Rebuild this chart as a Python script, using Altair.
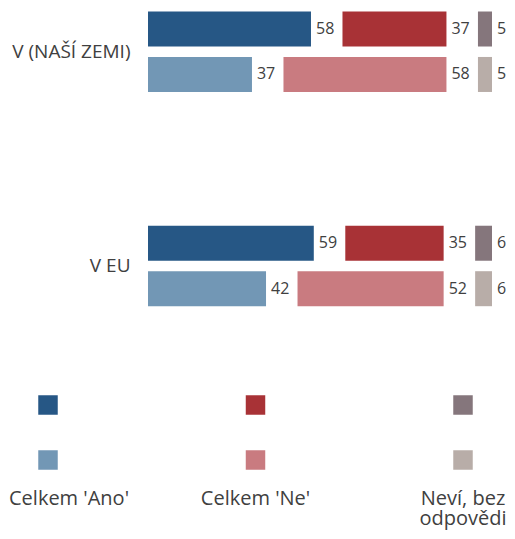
import altair as alt
import pandas as pd

# ---- data ----
groups = ["V (NAŠÍ ZEMI)", "V EU"]
shades = ["tmavá", "světlá"]
categories = ["Celkem 'Ano'", "Celkem 'Ne'", "Neví, bez odpovědi"]
legend_labels = ["Celkem 'Ano'", "Celkem 'Ne'", "Neví, bez\nodpovědi"]
ano = [58, 37, 59, 42]
ne = [37, 58, 35, 52]
nevi = [5, 5, 6, 6]
colors_dark = ["#265785", "#a83236", "#85767c"]
colors_light = ["#7297b5", "#c97b80", "#b8ada8"]

# ---- layout ----
FONT = "Open Sans"
TXT = "#404040"
W = 359
H = 301.7
PX_PER_UNIT = 2.81
X_MAX = W / PX_PER_UNIT
GAP = 31.5 / PX_PER_UNIT

rows = []
for gi, g in enumerate(groups):
    for si, s in enumerate(shades):
        k = gi * 2 + si
        vals = [ano[k], ne[k], nevi[k]]
        cum = 0
        for ci, c in enumerate(categories):
            start = cum + ci * GAP
            rows.append(dict(group=g, shade=s, cat=c, key=f"{c}|{s}",
                             value=vals[ci], start=start, end=start + vals[ci]))
            cum += vals[ci]
df = pd.DataFrame(rows)

color_domain = [f"{c}|{s}" for s in shades for c in categories]
color_range = colors_dark + colors_light
cscale = alt.Scale(domain=color_domain, range=color_range)

xs = alt.Scale(domain=[0, X_MAX], nice=False, zero=False)
ys = alt.Scale(domain=groups, paddingInner=0.5917, paddingOuter=0)
yos = alt.Scale(domain=shades, paddingInner=0.23, paddingOuter=0.077)

base = alt.Chart(df)
bars = base.mark_bar(cornerRadius=0).encode(
    x=alt.X("start:Q", scale=xs, axis=None),
    x2="end:Q",
    y=alt.Y("group:N", scale=ys, sort=groups, title=None,
            axis=alt.Axis(ticks=False, domain=False, labelFontSize=19, labelFont=FONT,
                          labelColor=TXT, labelPadding=18, labelLimit=200)),
    yOffset=alt.YOffset("shade:N", scale=yos, sort=shades),
    color=alt.Color("key:N", scale=cscale, legend=None),
)
values = base.mark_text(align="left", baseline="middle", dx=5, fontSize=16,
                        font=FONT, color=TXT).encode(
    x=alt.X("end:Q", scale=xs, axis=None),
    y=alt.Y("group:N", scale=ys, sort=groups, axis=None),
    yOffset=alt.YOffset("shade:N", scale=yos, sort=shades),
    text="value:Q",
)

leg_df = pd.DataFrame([dict(cat=c, shade=s, key=f"{c}|{s}") for s in shades for c in categories])
lab_df = pd.DataFrame(dict(cat=categories, label=legend_labels))
lx = alt.Scale(type="point", domain=categories, range=[-100, 315], padding=0)
ly = alt.Scale(type="point", domain=shades, range=[397, 452], padding=0)

squares = alt.Chart(leg_df).mark_square(size=380, opacity=1, filled=True).encode(
    x=alt.X("cat:N", scale=lx, axis=None),
    y=alt.Y("shade:N", scale=ly, axis=None),
    color=alt.Color("key:N", scale=cscale, legend=None),
)
text_style = dict(baseline="top", lineBreak="\n", lineHeight=20, fontSize=20,
                  font=FONT, color=TXT)
leg_text = alt.Chart(lab_df).mark_text(align="center", **text_style).encode(
    x=alt.X("cat:N", scale=lx, axis=None),
    y=alt.value(481.2),
    text="label:N",
).transform_filter(alt.datum.cat != categories[0])
# first label: kept fully inside the left edge
leg_text_first = alt.Chart(lab_df).mark_text(align="left", dx=-39, **text_style).encode(
    x=alt.X("cat:N", scale=lx, axis=None),
    y=alt.value(481.2),
    text="label:N",
).transform_filter(alt.datum.cat == categories[0])

chart = alt.layer(bars, values, squares, leg_text, leg_text_first).resolve_scale(
    x="independent", y="independent"
).properties(
    width=W, height=H,
    autosize=alt.AutoSizeParams(type="none"),
    padding={"left": 140, "top": 0, "right": 0, "bottom": 221.3},
).configure_view(stroke=None)

chart.save("out.html", embed_options={"renderer": "svg", "actions": False})
